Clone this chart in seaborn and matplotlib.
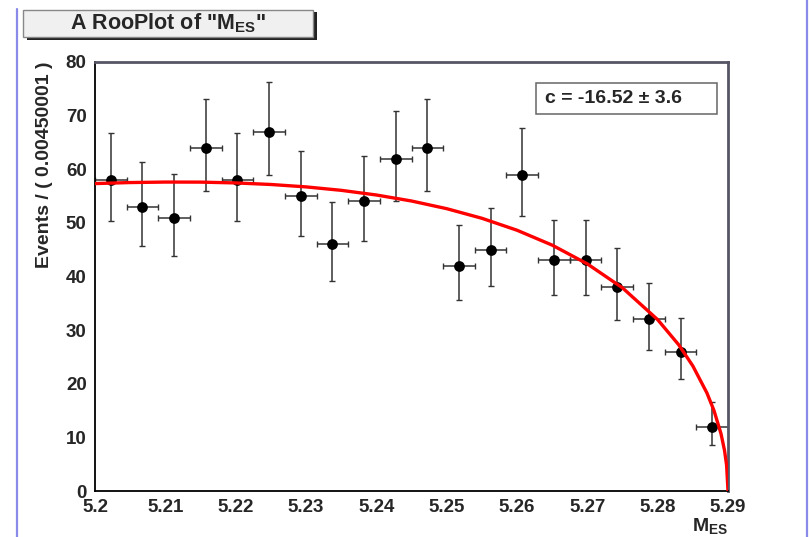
import numpy as np
import pandas as pd
import matplotlib
matplotlib.use("Agg")
import matplotlib.pyplot as plt
from matplotlib.patches import Rectangle
from matplotlib.lines import Line2D
from matplotlib.ticker import MultipleLocator
import seaborn as sns

# binned data (20 bins of width 0.0045 between 5.20 and 5.29)
bin_centers = [5.20225, 5.20675, 5.21125, 5.21575, 5.22025, 5.22475, 5.22925,
               5.23375, 5.23825, 5.24275, 5.24725, 5.25175, 5.25625, 5.26075,
               5.26525, 5.26975, 5.27425, 5.27875, 5.28325, 5.28775]
counts = [58, 53, 51, 64, 58, 67, 55, 46, 54, 62, 64, 42, 45, 59, 43, 43, 38, 32, 26, 12]
err_low = [7.59, 7.25, 7.12, 7.97, 7.59, 8.16, 7.39, 6.76, 7.32, 7.84,
           7.97, 6.45, 6.68, 7.65, 6.53, 6.53, 6.14, 5.62, 5.06, 3.41]
err_high = [8.67, 8.33, 8.19, 9.05, 8.67, 9.23, 8.47, 7.84, 8.40, 8.92,
            9.05, 7.54, 7.76, 8.73, 7.61, 7.61, 7.23, 6.72, 6.17, 4.57]
half_bin = 0.00225

# fitted ARGUS curve
curve_x = [5.200, 5.205, 5.210, 5.215, 5.220, 5.225, 5.230, 5.235, 5.240, 5.245,
           5.250, 5.255, 5.260, 5.265, 5.270, 5.275, 5.280, 5.283, 5.285, 5.287,
           5.288, 5.289, 5.2895, 5.2898, 5.290]
curve_y = [57.33, 57.52, 57.61, 57.60, 57.45, 57.16, 56.71, 56.07, 55.20, 54.08,
           52.65, 50.86, 48.63, 45.85, 42.35, 37.88, 31.95, 27.25, 23.32, 18.29,
           15.03, 10.71, 7.60, 4.82, 0.0]

x_ticklabels = ["5.2", "5.21", "5.22", "5.23", "5.24", "5.25", "5.26",
                "5.27", "5.28", "5.29"]

data = pd.DataFrame({"mes": bin_centers, "events": counts})
curve = pd.DataFrame({"mes": curve_x, "pdf": curve_y})

sns.set_style("white")
plt.rcParams["font.family"] = ["Liberation Sans", "DejaVu Sans"]
plt.rcParams["font.weight"] = "bold"
plt.rcParams["mathtext.fontset"] = "custom"
plt.rcParams["mathtext.rm"] = "Liberation Sans:bold"
plt.rcParams["mathtext.default"] = "rm"

fig = plt.figure(figsize=(8.1, 5.37), dpi=100)
ax = fig.add_axes([95 / 810, 1 - 491 / 537, 633 / 810, 429 / 537])

ax.errorbar(bin_centers, counts, yerr=[err_low, err_high], xerr=half_bin,
            fmt="none", ecolor="#333333", elinewidth=1.1, capsize=2, capthick=1.0,
            zorder=2)
sns.scatterplot(data=data, x="mes", y="events", color="black", s=60,
                edgecolor="black", linewidth=0, ax=ax, zorder=3)
sns.lineplot(data=curve, x="mes", y="pdf", color="red", linewidth=2.4,
             ax=ax, zorder=4, estimator=None, sort=False)

ax.set_xlim(5.2, 5.29)
ax.set_ylim(0, 80)
ax.xaxis.set_minor_locator(MultipleLocator(0.002))
ax.yaxis.set_major_locator(MultipleLocator(10))
ax.yaxis.set_minor_locator(MultipleLocator(2))
ax.set_xticks(np.arange(5.2, 5.2901, 0.01))
ax.set_xticklabels(x_ticklabels)
ax.tick_params(axis="both", which="major", direction="in", length=17, width=1.1,
               color="black", labelsize=13.5)
ax.tick_params(axis="both", which="minor", direction="in", length=8, width=1.0,
               color="black")
ax.tick_params(axis="x", which="major", length=13, pad=6)
ax.tick_params(axis="x", which="minor", length=7)
ax.tick_params(axis="y", which="major", pad=6)
for lbl in ax.get_xticklabels() + ax.get_yticklabels():
    lbl.set_fontweight("bold")

for side in ["left", "bottom"]:
    ax.spines[side].set_color("black")
    ax.spines[side].set_linewidth(1.3)
for side in ["top", "right"]:
    ax.spines[side].set_color("#555566")
    ax.spines[side].set_linewidth(2.0)

ax.set_xlabel("M$_{ES}$", fontsize=14, fontweight="bold")
ax.xaxis.set_label_coords(1.0, -0.058)
ax.xaxis.label.set_ha("right")
ax.xaxis.label.set_va("top")
ax.set_ylabel("Events / ( 0.00450001 )", fontsize=14, fontweight="bold", loc="top")
ax.yaxis.set_label_coords(-0.066, 1.0)

# title box with shadow
fig.patches.append(Rectangle((27 / 810, 1 - 40 / 537), 290 / 810, 28 / 537,
                             transform=fig.transFigure, facecolor="#222222",
                             edgecolor="none", zorder=1))
fig.patches.append(Rectangle((23 / 810, 1 - 37 / 537), 290 / 810, 27 / 537,
                             transform=fig.transFigure, facecolor="#f0f0f0",
                             edgecolor="#888888", linewidth=1.0, zorder=2))
fig.text(168 / 810, 1 - 23 / 537, 'A RooPlot of "M$_{ES}$"', ha="center", va="center",
         fontsize=15.5, fontweight="bold", zorder=3)

# parameter box
ax.add_patch(Rectangle((0.697, 0.878), 0.285, 0.074, transform=ax.transAxes,
                       facecolor="white", edgecolor="#666666", linewidth=1.1,
                       zorder=5))
ax.text((545 - 95) / 633, 0.915, "c = -16.52 ± 3.6", transform=ax.transAxes,
        ha="left", va="center", fontsize=14, fontweight="bold", zorder=6)

# page edge lines
fig.add_artist(Line2D([17 / 810, 17 / 810], [0, 1 - 9 / 537], color="#8a8ae8",
                      linewidth=1.6, transform=fig.transFigure))
fig.add_artist(Line2D([807 / 810, 807 / 810], [0, 1], color="#8a8ae8",
                      linewidth=1.6, transform=fig.transFigure))

fig.savefig("out.png", dpi=100)
